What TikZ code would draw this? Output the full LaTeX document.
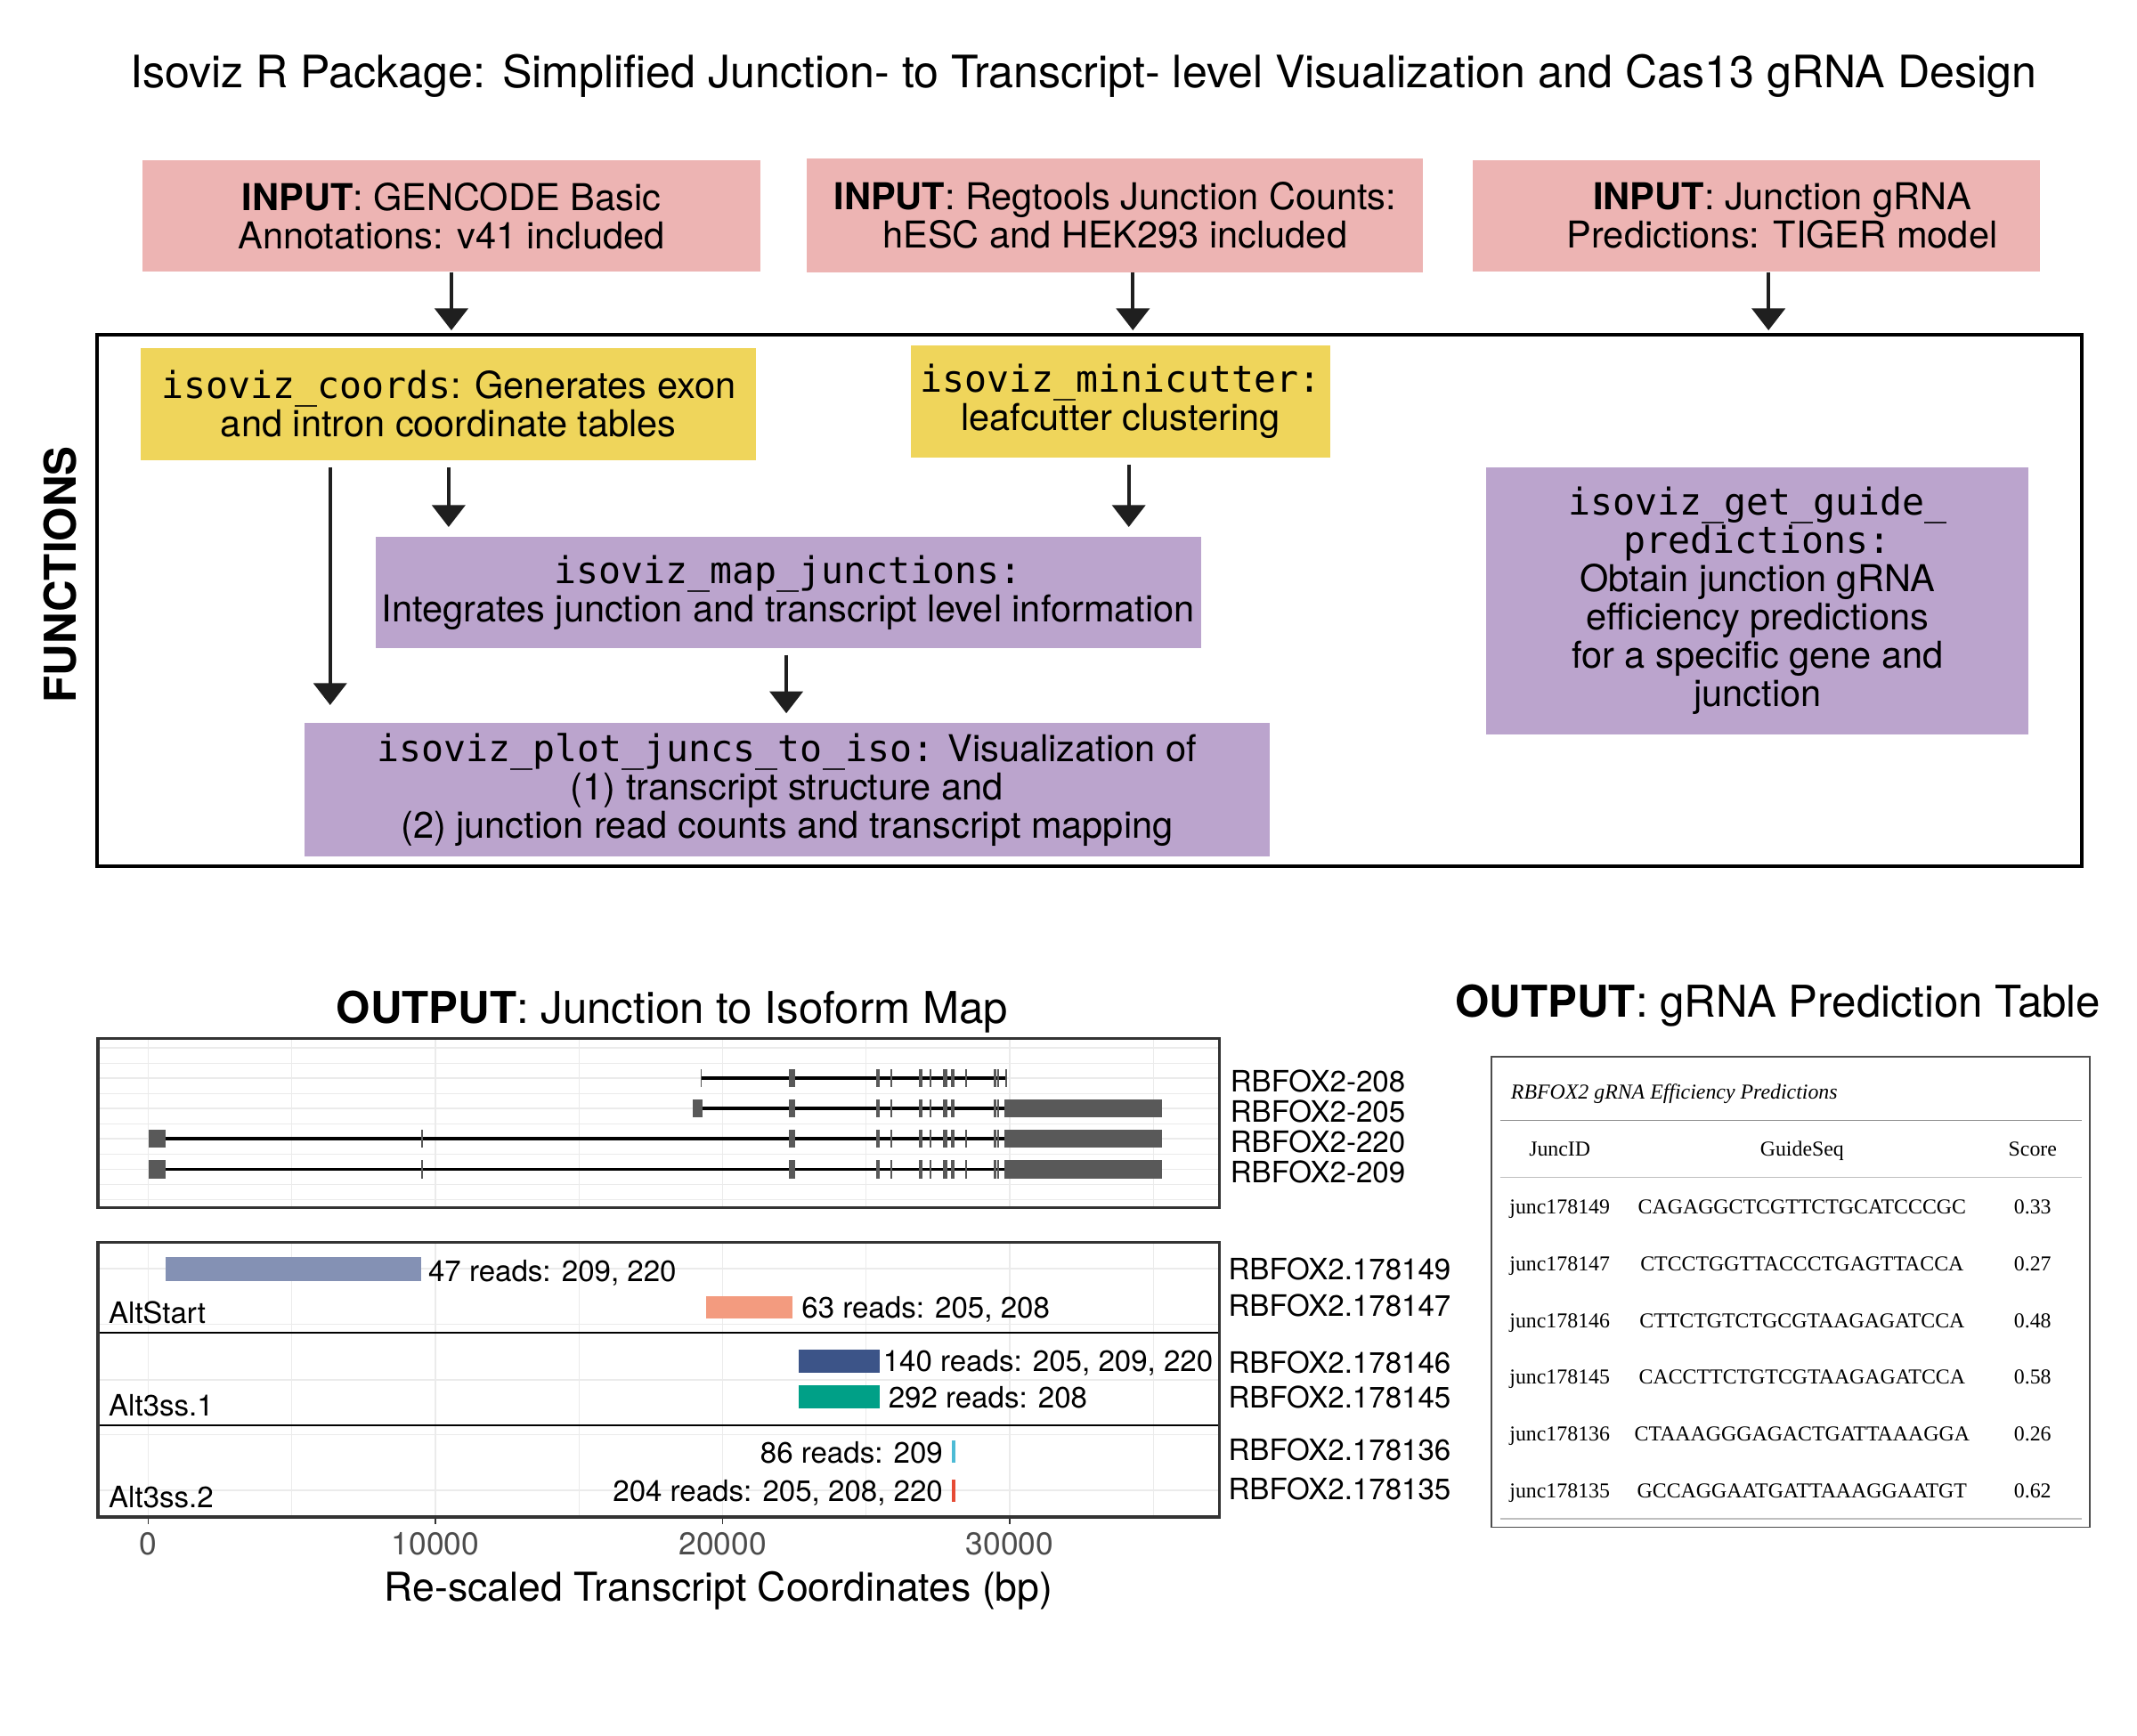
\documentclass[tikz,border=0pt]{standalone}
\usepackage{fontspec}
\setmainfont{TeX Gyre Heros}
\setmonofont{DejaVu Sans Mono}
\newfontfamily\tabfont{Liberation Serif}
\usetikzlibrary{arrows.meta,calc}

\definecolor{inpink}{HTML}{EDB4B3}
\definecolor{fnyellow}{HTML}{EFD55B}
\definecolor{fnpurple}{HTML}{BBA4CD}
\definecolor{exongray}{HTML}{595959}
\definecolor{gridgray}{HTML}{EBEBEB}
\definecolor{npgblue}{HTML}{8491B4}
\definecolor{npgsalmon}{HTML}{F39B7F}
\definecolor{npgnavy}{HTML}{3C5488}
\definecolor{npgteal}{HTML}{00A087}
\definecolor{npgcyan}{HTML}{4DBBD5}
\definecolor{npgred}{HTML}{E64B35}

\newcommand{\boxfont}{\fontsize{27}{28}\selectfont}
\newcommand{\headfont}{\fontsize{32}{38}\selectfont}
\newcommand{\labfont}{\fontsize{21.5}{24}\selectfont}
\newcommand{\cellfont}{\tabfont\fontsize{15.5}{18}\selectfont}

\tikzset{
  inbox/.style={fill=inpink, inner sep=0pt, align=center, font=\boxfont},
  fnbox/.style={fill=fnyellow, inner sep=0pt, align=center, font=\boxfont},
  mapbox/.style={fill=fnpurple, inner sep=0pt, align=center, font=\boxfont},
  arr/.style={draw=black!88, line width=2.8pt, -{Triangle[length=16pt,width=24pt]}},
  majorgrid/.style={draw=gridgray, line width=1.1pt},
  minorgrid/.style={draw=gridgray, line width=0.55pt},
  intron/.style={draw=black, line width=2.2pt},
  exon/.style={fill=exongray},
  panelframe/.style={draw=black!80, line width=2pt},
  facetline/.style={draw=black, line width=1.4pt},
  txlab/.style={anchor=base west, inner sep=0pt, font=\labfont},
  reads/.style={inner sep=0pt, font=\labfont},
  ticklab/.style={anchor=base, inner sep=0pt, text=black!70, font=\fontsize{23}{26}\selectfont},
  cell/.style={anchor=base, inner sep=0pt, font=\cellfont},
  tabrule/.style={draw=black!45, line width=0.9pt}
}

\begin{document}
\begin{tikzpicture}[x=1pt, y=-1pt]
	\useasboundingbox (0,0) rectangle (1560,1267.5);
	%title
	\node[anchor=base, inner sep=0pt, font=\fontsize{32.6}{38}\selectfont] (title) at (791,64) {Isoviz R Package: Simplified Junction- to Transcript- level Visualization and Cas13 gRNA Design};
	%inputs
	\node[inbox, minimum width=451pt, minimum height=81.5pt] (in1) at (329.5,157.75) {\textbf{INPUT}: GENCODE Basic\\Annotations: v41 included};
	\node[inbox, minimum width=450pt, minimum height=83pt] (in2) at (814,157.5) {\textbf{INPUT}: Regtools Junction Counts:\\hESC and HEK293 included};
	\node[inbox, minimum width=414pt, minimum height=81.5pt] (in3) at (1282,157.75) {\hspace*{38pt}\textbf{INPUT}: Junction gRNA\\\hspace*{38pt}Predictions: TIGER model};
	%functions frame
	\node[draw=black, line width=2.6pt, inner sep=0pt, minimum width=1449pt, minimum height=388pt] (frame) at (795.5,438.5) {};
	\node[rotate=90, inner sep=0pt, font=\headfont\bfseries] (fnlab) at (44,419.5) {FUNCTIONS};
	\node[fnbox, minimum width=449pt, minimum height=82pt] (coords) at (327.5,295) {\texttt{isoviz\_coords}: Generates exon\\and intron coordinate tables};
	\node[fnbox, minimum width=306pt, minimum height=82pt] (minicut) at (818,293) {\texttt{isoviz\_minicutter:}\\leafcutter clustering};
	\node[mapbox, minimum width=603pt, minimum height=81pt] (mapj) at (575.5,432.5) {\texttt{isoviz\_map\_junctions:}\\Integrates junction and transcript level information};
	\node[mapbox, minimum width=705pt, minimum height=97pt] (plotj) at (574.5,576.5) {\texttt{isoviz\_plot\_juncs\_to\_iso:} Visualization of\\(1) transcript structure and\\(2) junction read counts and transcript mapping};
	\node[mapbox, minimum width=396pt, minimum height=195pt] (guide) at (1283,438.5) {\texttt{isoviz\_get\_guide\_}\\\texttt{predictions:}\\Obtain junction gRNA\\efficiency predictions\\for a specific gene and\\junction};
	%arrows
	\draw[arr] (in1.south) -- ($(in1.south |- frame.north)+(0,-2)$);
	\draw[arr] ([xshift=13pt]in2.south) -- ($(in2.south |- frame.north)+(13,-2)$);
	\draw[arr] ([xshift=9pt]in3.south) -- ($(in3.south |- frame.north)+(9,-2)$);
	\draw[arr] ($(coords.south)+(0,5)$) -- ($(coords.south |- mapj.north)+(0,-7)$);
	\draw[arr] ($(coords.south)+(-86.5,5)$) -- ($(coords.south |- plotj.north)+(-86.5,-13)$);
	\draw[arr] ($(minicut.south)+(6,5)$) -- ($(minicut.south |- mapj.north)+(6,-7)$);
	\draw[arr] ($(mapj.south)+(-1.5,5)$) -- ($(mapj.south |- plotj.north)+(-1.5,-7)$);
	%output titles
	\node[anchor=base, inner sep=0pt, font=\headfont] (outmap) at (490.7,747) {\textbf{OUTPUT}: Junction to Isoform Map};
	\node[anchor=base, inner sep=0pt, font=\headfont] (outtab) at (1298,742.6) {\textbf{OUTPUT}: gRNA Prediction Table};
	%transcript track
	\begin{scope}[xshift=108.3pt, x=20.96pt]
		\foreach \g in {0,10,20,30}
		\draw[majorgrid] (\g,758.4) -- (\g,881.8);
		\foreach \g in {5,15,25,35}
		\draw[minorgrid] (\g,758.4) -- (\g,881.8);
		\foreach \y in {765,787.2,809.3,831.4,853.7,875.9}
		\draw[majorgrid] (-1.756,\y) -- (37.294,\y);
		\foreach \y in {776.1,798.2,820.3,842.5,864.8}
		\draw[minorgrid] (-1.756,\y) -- (37.294,\y);
		%introns
		\draw[intron] (19.256,787.2) -- (29.9,787.2);
		\draw[intron] (19.313,809.3) -- (29.819,809.3);
		\draw[intron] (0.587,831.4) -- (29.819,831.4);
		\draw[intron] (0.587,853.7) -- (29.819,853.7);
		%shared exons
		\foreach \yy in {787.2,809.3,831.4,853.7}
		\foreach \c/\w in {22.424/0.215,25.415/0.143,25.868/0.057,26.899/0.095,27.233/0.072,27.743/0.143,28.015/0.129,29.485/0.095,29.604/0.072}
		\fill[exon] ({\c-\w/2},{\yy-6.65}) rectangle ({\c+\w/2},{\yy+6.65});
		%RBFOX2-208
		\foreach \c/\w in {19.256/0.048,28.488/0.048,29.866/0.072}
		\fill[exon] ({\c-\w/2},780.55) rectangle ({\c+\w/2},793.85);
		%RBFOX2-205
		\fill[exon] (18.945,802.65) rectangle (19.313,815.95);
		\fill[exon] (29.819,802.65) rectangle (35.305,815.95);
		%RBFOX2-220 and RBFOX2-209
		\foreach \yy in {831.4,853.7}{
			\fill[exon] (0,{\yy-6.65}) rectangle (0.587,{\yy+6.65});
			\fill[exon] (29.819,{\yy-6.65}) rectangle (35.305,{\yy+6.65});
			\foreach \c/\w in {9.528/0.048,28.488/0.048}
			\fill[exon] ({\c-\w/2},{\yy-6.65}) rectangle ({\c+\w/2},{\yy+6.65});
		}
		\draw[panelframe] (-1.756,758.4) rectangle (37.294,881.8);
	\end{scope}
	\foreach \t/\yy in {208/796.9,205/819,220/841.1,209/863.4}
	\node[txlab] (tx\t) at (898,\yy) {RBFOX2-\t};
	%junction panel
	\begin{scope}[xshift=108.3pt, x=20.96pt]
		\foreach \g in {0,10,20,30}
		\draw[majorgrid] (\g,907.2) -- (\g,1107.6);
		\foreach \g in {5,15,25,35}
		\draw[minorgrid] (\g,907.2) -- (\g,1107.6);
		\foreach \y in {926.3,1007.5,1088.3}
		\draw[majorgrid] (-1.756,\y) -- (37.294,\y);
		\foreach \y in {966.7,1047.6}
		\draw[minorgrid] (-1.756,\y) -- (37.294,\y);
		%read bars
		\fill[npgblue] (0.587,918) rectangle (9.494,935.1);
		\node[reads, anchor=base west, xshift=5.2pt] (rd149) at (9.494,935.6) {47 reads: 209, 220};
		\fill[npgsalmon] (19.42,946.2) rectangle (22.44,962.7);
		\node[reads, anchor=base west, xshift=6.4pt] (rd147) at (22.44,962) {63 reads: 205, 208};
		\fill[npgnavy] (22.66,985.4) rectangle (25.46,1002.1);
		\node[reads, anchor=base west, xshift=2.5pt] (rd146) at (25.46,1001.4) {140 reads: 205, 209, 220};
		\fill[npgteal] (22.66,1011.4) rectangle (25.46,1028.5);
		\node[reads, anchor=base west, xshift=6.4pt] (rd145) at (25.46,1028) {292 reads: 208};
		\fill[npgcyan] (27.995,1051.5) rectangle (28.1,1068.2);
		\node[reads, anchor=base east] (rd136) at (27.68,1068) {86 reads: 209};
		\fill[npgred] (27.995,1080.1) rectangle (28.1,1096.3);
		\node[reads, anchor=base east] (rd135) at (27.68,1096.3) {204 reads: 205, 208, 220};
		%facets
		\draw[facetline] (-1.756,973.3) -- (37.294,973.3);
		\draw[facetline] (-1.756,1040.7) -- (37.294,1040.7);
		\draw[panelframe] (-1.756,907.2) rectangle (37.294,1107.6);
		%x axis
		\foreach \t/\lab in {0/0,10/10000,20/20000,30/30000}{
			\draw[draw=black!80, line width=1.1pt] (\t,1107.6) -- (\t,1113);
			\node[ticklab] (tick\t) at (\t,1135.3) {\lab};
		}
	\end{scope}
	\node[txlab] (facet1) at (79.2,966.3) {AltStart};
	\node[txlab] (facet2) at (79.2,1034) {Alt3ss.1};
	\node[txlab] (facet3) at (79.2,1100.7) {Alt3ss.2};
	\foreach \j/\yy in {178149/934.3,178147/960.9,178146/1002.5,178145/1028.1,178136/1066,178135/1094.6}
	\node[txlab] (jn\j) at (896.5,\yy) {RBFOX2.\j};
	\node[anchor=base, inner sep=0pt, font=\fontsize{29}{34}\selectfont] (xtitle) at (524.6,1168.9) {Re-scaled Transcript Coordinates (bp)};
	%gRNA table
	\draw[draw=black!70, line width=1pt] (1088.8,771.4) rectangle (1525.6,1115.1);
	\node[anchor=base west, inner sep=0pt, font=\cellfont\itshape] (tabcap) at (1102.8,802.6) {RBFOX2 gRNA Efficiency Predictions};
	\draw[tabrule] (1095,818.2) -- (1519.4,818.2);
	\node[cell] (hdid) at (1138.6,844.2) {JuncID};
	\node[cell] (hdseq) at (1315.5,844.2) {GuideSeq};
	\node[cell] (hdsc) at (1483.8,844.2) {Score};
	\draw[tabrule, draw=black!25] (1095,859.8) -- (1519.4,859.8);
	\foreach \id/\seq/\sc [count=\i from 0] in {178149/CAGAGGCTCGTTCTGCATCCCGC/0.33,178147/CTCCTGGTTACCCTGAGTTACCA/0.27,178146/CTTCTGTCTGCGTAAGAGATCCA/0.48,178145/CACCTTCTGTCGTAAGAGATCCA/0.58,178136/CTAAAGGGAGACTGATTAAAGGA/0.26,178135/GCCAGGAATGATTAAAGGAATGT/0.62}{
		\node[cell] (id\i) at (1138.6,{886.4+41.44*\i}) {junc\id};
		\node[cell] (seq\i) at (1315.5,{886.4+41.44*\i}) {\seq};
		\node[cell] (sc\i) at (1483.8,{886.4+41.44*\i}) {\sc};
	}
	\draw[tabrule, draw=black!25, line width=1.5pt] (1095,1108.9) -- (1519.4,1108.9);
\end{tikzpicture}
\end{document}
